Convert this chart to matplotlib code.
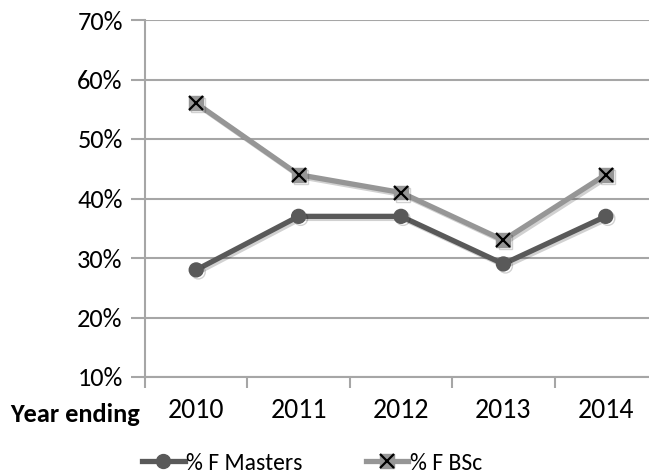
import matplotlib.pyplot as plt
import matplotlib.patheffects as pe
from matplotlib.lines import Line2D

plt.rcParams['font.family'] = ['Carlito', 'Lato', 'DejaVu Sans']

years = ['2010', '2011', '2012', '2013', '2014']
masters = [28, 37, 37, 29, 37]
bsc = [56, 44, 41, 33, 44]

dark = '#595959'
light = '#969696'
grid = '#a6a6a6'
fs = 19

fig = plt.figure(figsize=(6.49, 4.74), dpi=100)
ax = fig.add_axes([145 / 649, 1 - 377 / 474, 512 / 649, 357 / 474])

shadow = [pe.SimpleLineShadow(offset=(1.5, -1.5), alpha=0.18), pe.Normal()]
x = range(len(years))

ax.plot(x, masters, color=dark, lw=3.8, marker='o', ms=10,
        mfc=dark, mec=dark, path_effects=shadow, zorder=3)
ax.plot(x, bsc, color=light, lw=3.8, marker='s', ms=10,
        mfc=light, mec=light, path_effects=shadow, zorder=3)
ax.plot(x, bsc, ls='none', marker='x', ms=10, mew=1.6, color='black', zorder=4)

ax.set_xlim(-0.5, 4.5)
ax.set_ylim(10, 70)
ax.set_yticks(range(10, 71, 10))
ax.set_yticklabels([f'{v}%' for v in range(10, 71, 10)], fontsize=fs)
ax.yaxis.grid(True, color=grid, lw=1.5)
ax.set_axisbelow(True)

ax.set_xticks(list(x))
ax.set_xticklabels(years, fontsize=20)
ax.set_xticks([i - 0.5 for i in range(6)], minor=True)
ax.tick_params(axis='x', which='major', length=0, pad=15)
ax.tick_params(axis='x', which='minor', length=8, width=1.5, color=grid)
ax.tick_params(axis='y', length=10, width=1.5, color=grid, pad=6)

for side in ['top', 'right']:
    ax.spines[side].set_visible(False)
for side in ['left', 'bottom']:
    ax.spines[side].set_color(grid)
    ax.spines[side].set_linewidth(1.5)

fig.text(10 / 649, 1 - 414 / 474, 'Year ending', fontsize=fs,
         fontweight='bold', va='center', ha='left')

handles = [
    Line2D([], [], color=dark, lw=3.8, marker='o', ms=10),
    (Line2D([], [], color=light, lw=3.8, marker='s', ms=10),
     Line2D([], [], ls='none', marker='x', ms=10, mew=1.6, color='black')),
]
fig.legend(handles, ['% F Masters', '% F BSc'], loc='center',
           bbox_to_anchor=(312 / 649, 1 - 463 / 474), ncol=2, frameon=False,
           fontsize=17, handlelength=1.8, handletextpad=0.05,
           columnspacing=2.7, borderpad=0)

fig.savefig('out.png', dpi=100)
